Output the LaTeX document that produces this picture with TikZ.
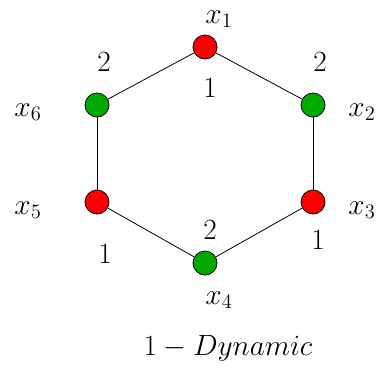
\RequirePackage{fix-cm}
\documentclass[tikz,border=0pt]{standalone}
\usepackage{xcolor}
\definecolor{vxred}{RGB}{255,0,0}
\definecolor{vxgreen}{RGB}{0,170,0}
\usepackage{tikz}
\usetikzlibrary{positioning}

\tikzset{
  vertex/.style={circle, draw=black, line width=0.6pt, minimum size=18pt, inner sep=0pt},
  redvx/.style={vertex, fill=vxred},
  greenvx/.style={vertex, fill=vxgreen},
  lbl/.style={font=\fontsize{22}{26}\selectfont}
}

\begin{document}
\begin{tikzpicture}[x=0.75pt, y=-0.75pt]
  \useasboundingbox (0,0) rectangle (377,368);

  % Vertices
  \node[redvx]   (x1) at (205,47)  {};
  \node[greenvx] (x2) at (313,105) {};
  \node[redvx]   (x3) at (313,202) {};
  \node[greenvx] (x4) at (205,263) {};
  \node[redvx]   (x5) at (97,202)  {};
  \node[greenvx] (x6) at (97,105)  {};

  % Cycle edges
  \foreach \a/\b in {x1/x2, x2/x3, x3/x4, x4/x5, x5/x6, x6/x1}
    \draw[line width=0.6pt] (\a) -- (\b);

  % Vertex names
  \node[lbl] (n1) at (219,19)  {$x_1$};
  \node[lbl] (n2) at (362,112) {$x_2$};
  \node[lbl] (n3) at (362,210) {$x_3$};
  \node[lbl] (n4) at (219,300) {$x_4$};
  \node[lbl] (n5) at (28,210)  {$x_5$};
  \node[lbl] (n6) at (28,112)  {$x_6$};

  % Dynamic colours
  \node[lbl] (c1) at (210,88)  {$1$};
  \node[lbl] (c2) at (320,62)  {$2$};
  \node[lbl] (c3) at (318,240) {$1$};
  \node[lbl] (c4) at (210,230) {$2$};
  \node[lbl] (c5) at (105,254) {$1$};
  \node[lbl] (c6) at (104,62)  {$2$};

  % Caption
  \node[lbl] (cap) at (228,348) {$1-Dynamic$};
\end{tikzpicture}
\end{document}
